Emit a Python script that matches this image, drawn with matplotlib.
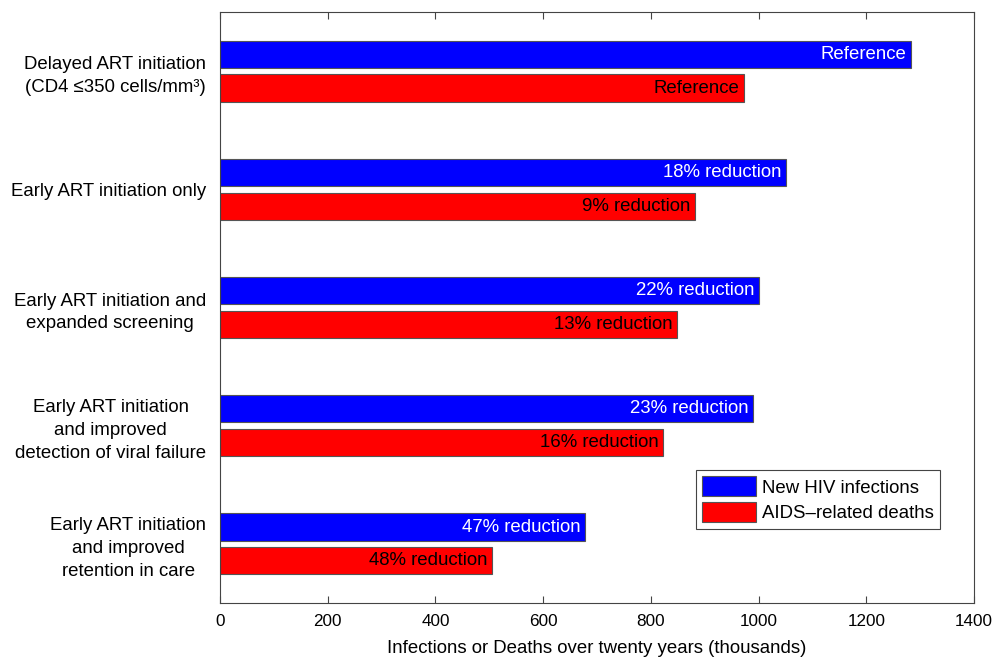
import numpy as np
import matplotlib
matplotlib.use('Agg')
import matplotlib.pyplot as plt

plt.rcParams['font.family'] = ['Liberation Sans', 'DejaVu Sans']

# Data (thousands over twenty years)
strategies = [
    'Delayed ART initiation\n(CD4 \u2264350 cells/mm\u00b3)',
    'Early ART initiation only',
    'Early ART initiation and\nexpanded screening',
    'Early ART initiation\nand improved\ndetection of viral failure',
    'Early ART initiation\nand improved\nretention in care',
]
infections = [1283, 1050, 1000, 990, 677]
deaths = [973, 882, 848, 822, 505]
infection_labels = ['Reference', '18% reduction', '22% reduction', '23% reduction', '47% reduction']
death_labels = ['Reference', '9% reduction', '13% reduction', '16% reduction', '48% reduction']

fs = 13.4

fig = plt.figure(figsize=(9.93, 6.62), dpi=100)
ax = fig.add_axes([0.2216, 0.0891, 0.7593, 0.8927])

pos = np.arange(1, len(strategies) + 1)
off = 0.143
h = 0.23

ax.barh(pos - off, infections, height=h, color='#0000ff', edgecolor='#555555',
        linewidth=0.8, label='New HIV infections')
ax.barh(pos + off, deaths, height=h, color='#ff0000', edgecolor='#555555',
        linewidth=0.8, label='AIDS\u2013related deaths')

for y, v, t in zip(pos - off, infections, infection_labels):
    ax.text(v - 8, y, t, color='white', ha='right', va='center', fontsize=fs)
for y, v, t in zip(pos + off, deaths, death_labels):
    ax.text(v - 8, y, t, color='black', ha='right', va='center', fontsize=fs)

ax.set_xlim(0, 1400)
ax.set_ylim(5.5, 0.5)
ax.set_xticks(np.arange(0, 1401, 200))
ax.set_yticks(pos)
ax.set_yticklabels(strategies, multialignment='center', fontsize=fs, linespacing=1.45)
ax.tick_params(axis='y', length=0, pad=10)
ax.tick_params(axis='x', direction='in', top=True, length=5, width=0.8,
               color='#444444', labelsize=12.3, pad=8)
ax.set_xlabel('Infections or Deaths over twenty years (thousands)', fontsize=fs, labelpad=8)
for s in ax.spines.values():
    s.set_color('#444444')
    s.set_linewidth(0.8)

leg = ax.legend(loc='lower right', bbox_to_anchor=(0.9466, 0.2009),
                bbox_transform=fig.transFigure, fontsize=fs, fancybox=False,
                edgecolor='#444444', framealpha=1, handlelength=2.9, handleheight=1.3,
                handletextpad=0.3, borderpad=0.35, labelspacing=0.3, borderaxespad=0)
leg.get_frame().set_linewidth(0.8)

fig.savefig('out.png', dpi=100)
